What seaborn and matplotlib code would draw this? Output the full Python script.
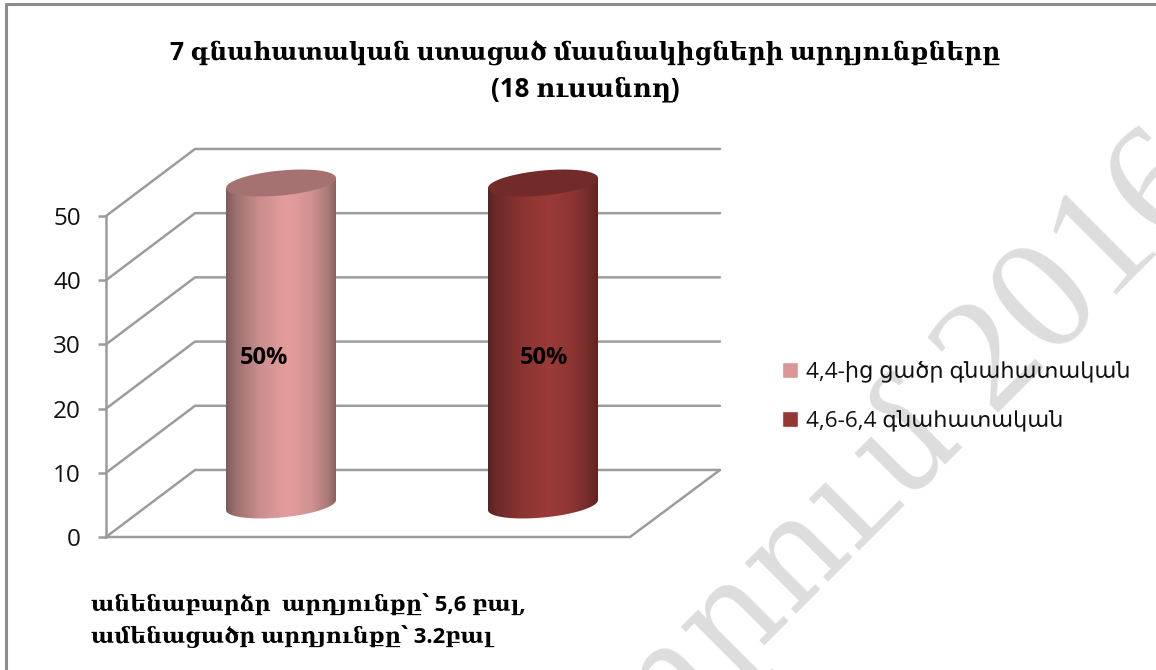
import numpy as np
import pandas as pd
import seaborn as sns
import matplotlib
matplotlib.use("Agg")
import matplotlib.pyplot as plt
from matplotlib.colors import LinearSegmentedColormap
from matplotlib.patches import Polygon

# values
groups = ["4,4-ից ցածր գնահատական", "4,6-6,4 գնահատական"]
percent = [50, 50]
bar_labels = ["50%", "50%"]
y_ticks = [0, 10, 20, 30, 40, 50]
title_lines = ["7 գնահատական ստացած մասնակիցների արդյունքները", "(18 ուսանող)"]
note_lines = ["անենաբարձր  արդյունքը՝ 5,6 բալ,", "ամենացածր արդյունքը՝ 3.2բալ"]
# the word of the watermark is only partly visible, this is a best guess
watermark_word = "Ատեստավորում"
watermark_year = "2016"

bar_colors = ["#D99694", "#953735"]
# shading across the cylinder from left edge to right edge
shade_stops = [0, 0.08, 0.3, 0.56, 0.78, 0.92, 1]
body_shades = [["#7d5a5a", "#9c6f6f", "#c88e8d", "#e69d9c", "#d09190", "#ad7b7a", "#8a6361"],
               ["#5a2322", "#6e2a29", "#8a3432", "#9c3a37", "#8b3533", "#722c2a", "#5e2422"]]
top_shades = ["#a67271", "#722b29"]
grid_color = "#9c9c9c"

W, H = 1156, 670

sns.set_theme(style="white")
plt.rcParams["font.family"] = ["Open Sans", "DejaVu Sans"]
serif_mix = ["Open Sans", "DejaVu Serif"]

fig = plt.figure(figsize=(W / 100, H / 100), dpi=100)
fig.patch.set_facecolor("white")


def axes_box(left, top, right, bottom):
    return [left / W, 1 - bottom / H, (right - left) / W, (bottom - top) / H]


# outer frame and watermark sit behind everything
bg = fig.add_axes([0, 0, 1, 1], zorder=0)
bg.set_xlim(0, W)
bg.set_ylim(H, 0)
bg.axis("off")
bg.plot([6, 6, W], [H, 4, 4], color="#8c8c8c", lw=2.2)
bg.text(1219, 185, watermark_year, rotation=45, rotation_mode="anchor", ha="right", va="baseline",
        fontsize=116, color="#dddddd", family=["Liberation Serif", "DejaVu Serif"])
bg.text(965, 440, watermark_word, rotation=45, rotation_mode="anchor", ha="right", va="baseline",
        fontsize=100, color="#dddddd", family="DejaVu Serif")

# walls and floor, front axis x=106, back wall x=195
walls = fig.add_axes(axes_box(106, 216, 720, 537), zorder=1)
walls.patch.set_alpha(0)
walls.set_xlim(106, 720)
walls.set_ylim(0, 50)
sns.despine(ax=walls, bottom=True, right=True, top=True)
walls.spines["left"].set_color(grid_color)
walls.spines["left"].set_linewidth(1.8)
walls.set_xticks([])
walls.set_yticks(y_ticks)
walls.tick_params(axis="y", length=6, width=1.8, color=grid_color, labelsize=17.5, pad=12,
                  labelcolor="#111111", left=True)
back_rise = 10.44
for t in y_ticks:
    walls.plot([106, 195, 720], [t, t + back_rise, t + back_rise], color=grid_color, lw=1.8, clip_on=False)
walls.plot([106, 630, 720], [0, 0, back_rise], color=grid_color, lw=1.8, clip_on=False)

# cylinders: seaborn lays the bars out, the round shape is drawn over them
ax = fig.add_axes(axes_box(150, 183, 674, 505), zorder=2)
ax.patch.set_alpha(0)
df = pd.DataFrame({"group": groups, "percent": percent})
sns.barplot(data=df, x="group", y="percent", hue="group", palette=bar_colors, dodge=False,
            width=110 / 262, saturation=1, legend=True, ax=ax)
ax.set_xlim(-0.5, 1.5)
ax.set_ylim(0, 50)
ax.axis("off")
sns.move_legend(ax, "upper left", bbox_to_anchor=((782 - 150) / 524, (505 - 361) / 322), frameon=False,
                title=None, fontsize=16.2, handlelength=0.72, handleheight=0.72, handletextpad=0.36,
                labelspacing=1.25, borderpad=0, borderaxespad=0, labelcolor="#111111")

px_x = 524 / 2.0   # pixels per category unit
px_y = 322 / 50.0  # pixels per percent
t = np.linspace(0, 2 * np.pi, 200)
a_px, b_px, tilt_px = 55.0, 12.5, 5.0

for i, bar in enumerate(ax.patches[:len(groups)]):
    cx = bar.get_x() + bar.get_width() / 2
    half = bar.get_width() / 2
    top = bar.get_height()
    bar.set_facecolor("none")
    bar.set_edgecolor("none")

    ex = cx + a_px * np.cos(t) / px_x
    ey = (b_px * np.sin(t) + tilt_px * np.cos(t)) / px_y

    # body outline: the lower half of the base ellipse, closed along the top ellipse
    low = np.sin(t) < 0
    order = np.argsort(ex[low])
    body_xy = np.vstack([
        np.column_stack([ex[low][order], ey[low][order]]),
        [[cx + half, top + tilt_px / px_y], [cx - half, top - tilt_px / px_y]],
    ])
    body = Polygon(body_xy, closed=True, transform=ax.transData, facecolor="none", edgecolor="none")
    ax.add_patch(body)
    cmap = LinearSegmentedColormap.from_list("body", list(zip(shade_stops, body_shades[i])))
    img = ax.imshow(np.linspace(0, 1, 256).reshape(1, -1), cmap=cmap, aspect="auto",
                    extent=[cx - half, cx + half, -5, top + 5], zorder=3)
    # the image must reach past the axes box, the ellipses stick out of it
    img.set_clip_box(fig.bbox)
    img.set_clip_path(body)

    ax.add_patch(Polygon(np.column_stack([ex, top + ey]), closed=True, facecolor=top_shades[i],
                         edgecolor="none", zorder=4, clip_on=False))

ax.set_xlim(-0.5, 1.5)
ax.set_ylim(0, 50)

# labels on the bars
label_dx = [-12.5, 1]
for i, bar in enumerate(ax.patches[:len(groups)]):
    ax.annotate(bar_labels[i], (bar.get_x() + bar.get_width() / 2, bar.get_height() / 2),
                xytext=(label_dx[i], -10), textcoords="offset points", ha="center", va="center",
                fontsize=17, fontweight="bold", color="black", zorder=6,
                family="Open Sans")

# title and note on a top layer
top_ax = fig.add_axes([0, 0, 1, 1], zorder=3)
top_ax.set_xlim(0, W)
top_ax.set_ylim(H, 0)
top_ax.axis("off")
top_ax.text(585, 54, title_lines[0], ha="center", va="center", fontsize=17.7, fontweight="bold",
            color="black", family=serif_mix)
top_ax.text(585, 89, title_lines[1], ha="center", va="center", fontsize=18.6, fontweight="bold",
            color="black", family=serif_mix)
top_ax.text(91, 605, note_lines[0], ha="left", va="center", fontsize=15.8, fontweight="bold",
            color="black", family=serif_mix)
top_ax.text(91, 637, note_lines[1], ha="left", va="center", fontsize=15.8, fontweight="bold",
            color="black", family=serif_mix)

fig.savefig("out.png", dpi=100)
